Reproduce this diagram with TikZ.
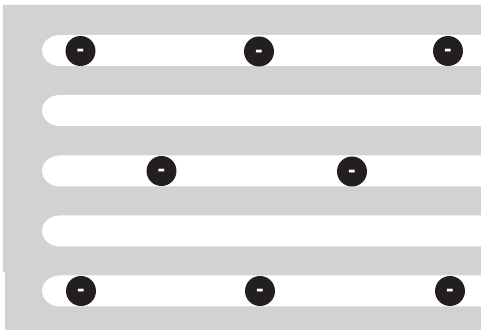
\documentclass[tikz,border=0pt]{standalone}
\usepackage{fontspec}
\newfontfamily\signofont{Liberation Sans}
\definecolor{fondo}{HTML}{D1D2D4}
\definecolor{carga}{HTML}{231F20}
\begin{document}
\begin{tikzpicture}[x=0.02cm,y=-0.02cm,
    neg/.style={circle,fill=carga,minimum size=0.6cm,inner sep=0pt,
      text=white,text height=6.8pt,text depth=0pt,
      font=\signofont\bfseries\fontsize{13}{13}\selectfont}]
    \useasboundingbox (0,0) rectangle (481,330);
    % fondo gris
    \fill[fondo] (3,5) -- (481,5) -- (481,330) -- (5,330) -- (5,272) -- (3,272) -- cycle;
    % canales blancos, extremo izquierdo redondeado
    \foreach \yc in {50.5,110.5,171,231,291}
      \fill[white] (481,\yc+15.5) -- (60,\yc+15.5)
        arc[start angle=90,end angle=270,x radius=18,y radius=15.5]
        -- (481,\yc-15.5) -- cycle;
    % cargas del primer canal
    \node[neg] (neg-a1) at (80.5,51) {-};
    \node[neg] (neg-a2) at (259,51.5) {-};
    \node[neg] (neg-a3) at (448,51) {-};
    % cargas del canal central
    \node[neg] (neg-c1) at (161.5,171) {-};
    \node[neg] (neg-c2) at (352,171.5) {-};
    % cargas del ultimo canal
    \node[neg] (neg-e1) at (81,291) {-};
    \node[neg] (neg-e2) at (260,291) {-};
    \node[neg] (neg-e3) at (450,291) {-};
  \end{tikzpicture}
\end{document}
